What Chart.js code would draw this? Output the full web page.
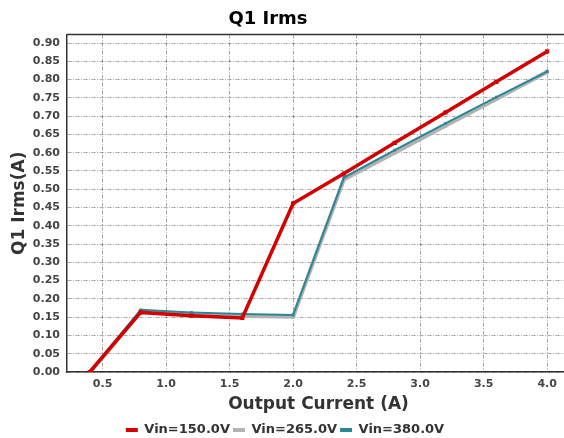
<!DOCTYPE html>
<html>
<head>
<meta charset="utf-8">
<script src="https://cdn.jsdelivr.net/npm/chart.js@4/dist/chart.umd.min.js"></script>
<style>
  html, body { margin: 0; padding: 0; background: #fff; overflow: hidden; width: 564px; height: 438px; }
  #clip { position: relative; width: 564px; height: 438px; overflow: hidden; }
  #c { position: absolute; left: 0; top: 0; width: 570px; height: 438px; }
</style>
</head>
<body>
<div id="clip"><canvas id="c" width="570" height="438"></canvas></div>
<script>
const outputCurrent = [0.4, 0.8, 1.2, 1.6, 2.0, 2.4, 2.8, 3.2, 3.6, 4.0];
const vin150 = [0.000, 0.163, 0.154, 0.148, 0.461, 0.543, 0.627, 0.710, 0.794, 0.877];
const vin265 = [0.000, 0.165, 0.158, 0.153, 0.151, 0.527, 0.600, 0.674, 0.747, 0.821];
const vin380 = [0.000, 0.170, 0.163, 0.159, 0.156, 0.532, 0.607, 0.680, 0.752, 0.822];
const seriesNames = ['Vin=150.0V', 'Vin=265.0V', 'Vin=380.0V'];
const xTicks = [0.5, 1.0, 1.5, 2.0, 2.5, 3.0, 3.5, 4.0];
const yTicks = [0.00, 0.05, 0.10, 0.15, 0.20, 0.25, 0.30, 0.35, 0.40, 0.45, 0.50, 0.55, 0.60, 0.65, 0.70, 0.75, 0.80, 0.85, 0.90];

const FONT = "'DejaVu Sans', sans-serif";
const toPts = arr => outputCurrent.map((x, i) => ({ x: x, y: arr[i] }));

const frame = {
  id: 'frame',
  afterLayout(chart) {
    if (chart.titleBlock) { chart.titleBlock.right -= 34; }
  },
  beforeDatasetsDraw(chart) {
    const { ctx, chartArea: a } = chart;
    ctx.save();
    ctx.strokeStyle = '#333';
    ctx.lineWidth = 1.5;
    ctx.beginPath();
    ctx.moveTo(a.left, a.top);
    ctx.lineTo(a.right, a.top);
    ctx.stroke();
    ctx.restore();
  }
};

const gridCommon = {
  color: 'rgba(0,0,0,0.34)',
  lineWidth: 1,
  drawTicks: false
};

new Chart(document.getElementById('c'), {
  type: 'line',
  data: {
    datasets: [
      { label: seriesNames[0], data: toPts(vin150), borderColor: '#d40000', backgroundColor: '#d40000',
        borderWidth: 3.5, pointStyle: 'rect', pointRadius: 3, pointBorderWidth: 0, order: 0 },
      { label: seriesNames[1], data: toPts(vin265), borderColor: '#b2b2b2', backgroundColor: '#b2b2b2',
        borderWidth: 4, pointStyle: 'rect', pointRadius: 2.5, pointBorderWidth: 0, order: 2 },
      { label: seriesNames[2], data: toPts(vin380), borderColor: '#2a8798', backgroundColor: '#2a8798',
        borderWidth: 2, pointStyle: 'rect', pointRadius: 2, pointBorderWidth: 0, order: 1 }
    ]
  },
  options: {
    responsive: false,
    maintainAspectRatio: false,
    devicePixelRatio: 1,
    animation: false,
    layout: { autoPadding: false, padding: { left: 0, right: 0, top: 0, bottom: -8.6 } },
    elements: { line: { tension: 0 } },
    plugins: {
      tooltip: { enabled: false },
      title: {
        display: true,
        text: 'Q1 Irms',
        color: '#000',
        font: { family: FONT, size: 18, weight: 'bold' },
        padding: { top: 9, bottom: 4 }
      },
      legend: {
        display: true,
        position: 'bottom',
        labels: {
          color: '#333',
          font: { family: FONT, size: 13, weight: 'bold' },
          boxWidth: 12,
          boxHeight: 4,
          padding: 3,
          sort: (a, b) => a.datasetIndex - b.datasetIndex,
          generateLabels(chart) {
            const items = Chart.defaults.plugins.legend.labels.generateLabels(chart);
            return items.map(it => Object.assign(it, { lineWidth: 0, fillStyle: it.strokeStyle }));
          }
        }
      }
    },
    scales: {
      x: {
        type: 'linear',
        min: 0.22,
        max: 4.18,
        afterBuildTicks(scale) { scale.ticks = xTicks.map(v => ({ value: v })); },
        afterFit(scale) { scale.paddingRight = 0; scale.paddingLeft = 0; },
        ticks: {
          color: '#444',
          font: { family: FONT, size: 11, weight: 'bold' },
          padding: 6,
          maxRotation: 0,
          callback: v => Number(v).toFixed(1)
        },
        grid: Object.assign({}, gridCommon),
        border: { display: true, color: '#333', width: 1.5, dash: [4, 1.5, 1, 1.5] },
        title: {
          display: true,
          text: 'Output Current (A)',
          color: '#333',
          font: { family: FONT, size: 17, weight: 'bold' },
          padding: { top: -3, bottom: 6 }
        }
      },
      y: {
        type: 'linear',
        min: 0,
        max: 0.923,
        afterBuildTicks(scale) { scale.ticks = yTicks.map(v => ({ value: v })); },
        afterFit(scale) { scale.width = 67; },
        ticks: {
          color: '#444',
          font: { family: FONT, size: 11, weight: 'bold' },
          padding: 7,
          callback: v => Number(v).toFixed(2)
        },
        grid: Object.assign({}, gridCommon),
        border: { display: true, color: '#333', width: 1.5, dash: [4, 1.5, 1, 1.5] },
        title: {
          display: true,
          text: 'Q1 Irms(A)',
          color: '#333',
          font: { family: FONT, size: 17, weight: 'bold' },
          padding: { top: 9, bottom: 0 }
        }
      }
    }
  },
  plugins: [frame]
});
</script>
</body>
</html>
